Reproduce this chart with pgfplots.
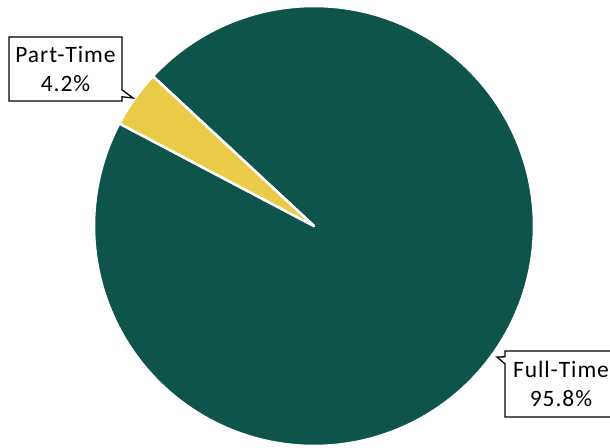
\documentclass[border=0pt]{standalone}
\usepackage{pgfplots}
\pgfplotsset{compat=1.18}
\usepackage{fontspec}
\setmainfont{Carlito}
\newfontfamily\lblfont[LetterSpace=4]{Carlito}
\usetikzlibrary{shapes.callouts}
\definecolor{ftgreen}{RGB}{14,84,74}
\definecolor{ptyellow}{RGB}{233,203,71}
% data (percent)
\def\fullval{95.8}
\def\partval{4.2}
\def\startang{137.1}
\pgfmathsetmacro{\fullstart}{\startang-\fullval*3.6}
\pgfmathsetmacro{\partend}{\startang+\partval*3.6}
\begin{document}
\begin{tikzpicture}
\begin{axis}[
  scale only axis, width=610pt, height=447pt,
  xmin=0, xmax=610, ymin=0, ymax=447,
  hide axis, clip=false,
]
\addplot[fill=ftgreen, draw=white, line width=2.5pt, line join=round,
  domain=\fullstart:\startang, samples=240, variable=\t]
  ({314+220*cos(\t)}, {221+220*sin(\t)}) -- (axis cs:314,221) -- cycle;
\addplot[fill=ptyellow, draw=white, line width=2.5pt, line join=round,
  domain=\startang:\partend, samples=30, variable=\t]
  ({314+220*cos(\t)}, {221+220*sin(\t)}) -- (axis cs:314,221) -- cycle;
\node[rectangle callout, draw=black, line width=1.3pt, fill=white, align=center,
  font=\lblfont\fontsize{23.5}{29}\selectfont, minimum width=113pt, minimum height=64pt, inner sep=1pt,
  callout absolute pointer={(axis cs:133,349)}] at (axis cs:65.5,378) {Part-Time\\4.2\%};
\node[rectangle callout, draw=black, line width=1.3pt, fill=white, align=center,
  font=\lblfont\fontsize{23.5}{29}\selectfont, minimum width=112pt, minimum height=66pt, inner sep=1pt,
  callout absolute pointer={(axis cs:497,90)}] at (axis cs:561,63) {Full-Time\\95.8\%};
\end{axis}
\pgfresetboundingbox
\useasboundingbox (0,0) rectangle (610pt,447pt);
\end{tikzpicture}
\end{document}
